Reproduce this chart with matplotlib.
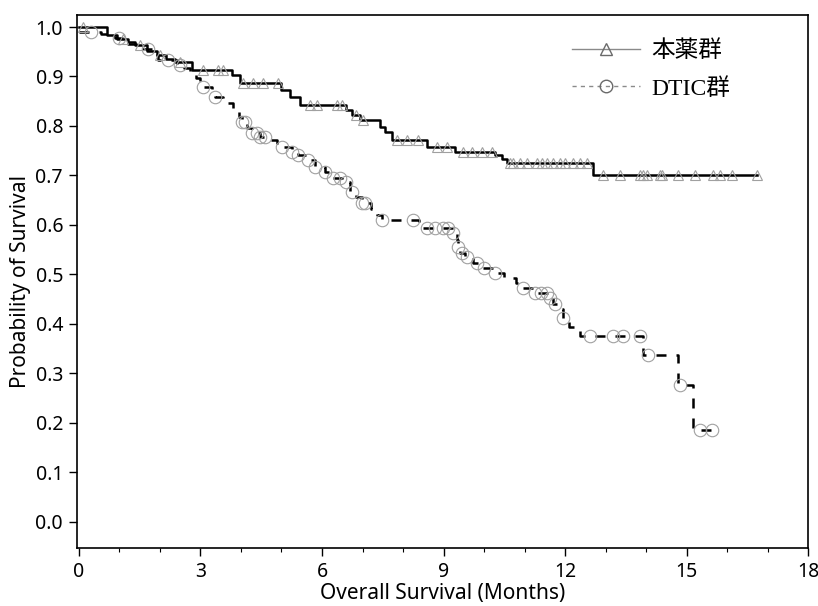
import numpy as np
import matplotlib
matplotlib.use("Agg")
import matplotlib.pyplot as plt
from matplotlib.lines import Line2D
from matplotlib.ticker import MultipleLocator

# ---- data ----
labels = ["本薬群", "DTIC群"]

a_times = [0.0, 0.69, 0.95, 1.2, 1.38, 1.68, 1.93, 2.15, 2.37, 2.79, 3.78, 3.97,
           5.0, 5.2, 5.46, 6.6, 6.75, 6.94, 7.43, 7.55, 7.73, 8.59, 9.28, 10.27,
           10.45, 10.56, 12.69]
a_surv = [1.0, 0.984, 0.976, 0.970, 0.964, 0.952, 0.943, 0.936, 0.929, 0.913,
          0.903, 0.887, 0.872, 0.858, 0.842, 0.832, 0.822, 0.812, 0.798, 0.788,
          0.772, 0.758, 0.747, 0.741, 0.733, 0.725, 0.701]
a_end = 16.74
a_censor = [0.1, 1.1, 1.5, 2.0, 2.5, 3.06, 3.43, 3.56, 4.05, 4.3, 4.54, 4.91,
            5.7, 5.88, 6.37, 6.49, 6.85, 7.0, 7.85, 8.1, 8.37, 8.84, 9.09, 9.48,
            9.7, 9.95, 10.2, 10.64, 10.72, 10.89, 11.06, 11.31, 11.43, 11.56,
            11.7, 11.88, 12.0, 12.2, 12.37, 12.54, 12.94, 13.36, 13.85, 13.93,
            14.02, 14.35, 14.4, 14.79, 15.21, 15.65, 15.83, 16.12, 16.74]

b_times = [0.0, 0.55, 0.9, 1.2, 1.5, 1.83, 1.95, 2.42, 2.6, 2.74, 2.9, 3.0, 3.28,
           3.36, 3.56, 3.8, 3.95, 4.02, 4.15, 4.27, 4.47, 4.64, 4.9, 5.01, 5.26,
           5.41, 5.65, 5.83, 6.07, 6.27, 6.49, 6.69, 6.85, 6.99, 7.2, 7.35, 7.48,
           8.4, 9.23, 9.33, 9.36, 9.4, 9.53, 9.73, 9.98, 10.27, 10.5, 10.8, 10.96,
           11.26, 11.6, 11.7, 11.8, 11.95, 12.1, 12.37, 13.93, 14.79, 15.16]
b_surv = [0.99, 0.986, 0.978, 0.966, 0.955, 0.943, 0.933, 0.923, 0.917, 0.909,
          0.897, 0.879, 0.867, 0.859, 0.846, 0.832, 0.818, 0.808, 0.796, 0.786,
          0.778, 0.772, 0.765, 0.758, 0.747, 0.741, 0.731, 0.717, 0.707, 0.695,
          0.687, 0.667, 0.657, 0.644, 0.632, 0.620, 0.610, 0.594, 0.584, 0.570,
          0.555, 0.543, 0.535, 0.523, 0.513, 0.503, 0.493, 0.483, 0.473, 0.463,
          0.452, 0.440, 0.430, 0.412, 0.394, 0.376, 0.337, 0.277, 0.185]
b_end = 15.63
b_censor = [0.3, 1.0, 1.7, 2.2, 2.5, 3.06, 3.36, 4.02, 4.1, 4.27, 4.4, 4.47, 4.6,
            5.01, 5.26, 5.41, 5.65, 5.83, 6.07, 6.27, 6.44, 6.6, 6.74, 6.99, 7.05,
            7.48, 8.25, 8.6, 8.8, 8.99, 9.1, 9.23, 9.36, 9.45, 9.58, 9.83, 10.0,
            10.27, 10.96, 11.26, 11.4, 11.56, 11.63, 11.75, 11.95, 12.62, 13.19,
            13.43, 13.85, 14.05, 14.84, 15.33, 15.63]

x_ticks = [0, 3, 6, 9, 12, 15, 18]
y_ticks = [0.0, 0.1, 0.2, 0.3, 0.4, 0.5, 0.6, 0.7, 0.8, 0.9, 1.0]
x_label = "Overall Survival (Months)"
y_label = "Probability of Survival"


def step_value(times, surv, t):
    i = np.searchsorted(times, t, side="right") - 1
    return np.asarray(surv)[np.clip(i, 0, len(surv) - 1)]


fig = plt.figure(figsize=(8.18, 6.06), dpi=100)
ax = fig.add_axes([0.094, 0.096, 0.894, 0.879])

tick_font = "Noto Sans"
fs = 14

# curve A
ta = np.array(a_times + [a_end])
sa = np.array(a_surv + [a_surv[-1]])
ax.step(ta, sa, where="post", color="black", lw=1.8, zorder=3)
ax.plot(a_censor, step_value(a_times, a_surv, np.array(a_censor)),
        linestyle="none", marker="^", markersize=7, markerfacecolor="none",
        markeredgecolor="#a0a0a0", markeredgewidth=0.8, zorder=4)

# curve B
tb = np.array(b_times + [b_end])
sb = np.array(b_surv + [b_surv[-1]])
ax.step(tb, sb, where="post", color="black", lw=1.8, linestyle=(0, (4, 4)), zorder=3)
ax.plot(b_censor, step_value(b_times, b_surv, np.array(b_censor)),
        linestyle="none", marker="o", markersize=9, markerfacecolor="none",
        markeredgecolor="#a0a0a0", markeredgewidth=0.8, zorder=4)

ax.set_xlim(-0.05, 18.0)
ax.set_ylim(-0.053, 1.024)
ax.set_xticks(x_ticks)
ax.set_xticklabels([str(v) for v in x_ticks], fontsize=fs, family=tick_font)
ax.xaxis.set_minor_locator(MultipleLocator(1))
ax.set_yticks(y_ticks)
ax.set_yticklabels([f"{v:.1f}" for v in y_ticks], fontsize=fs, family=tick_font)
ax.tick_params(axis="both", which="major", direction="out", length=6, width=1.0, pad=4)
ax.tick_params(axis="x", which="minor", direction="out", length=3, width=0.8)
ax.set_xlabel(x_label, fontsize=15, family=tick_font, labelpad=1)
ax.set_ylabel(y_label, fontsize=15, family=tick_font, labelpad=3)
for s in ax.spines.values():
    s.set_linewidth(1.2)

handles = [
    Line2D([], [], color="#8a8a8a", lw=1.0, marker="^", markersize=8,
           markerfacecolor="none", markeredgecolor="#6a6a6a"),
    Line2D([], [], color="#8a8a8a", lw=1.0, linestyle=(0, (3, 3)), marker="o",
           markersize=9, markerfacecolor="none", markeredgecolor="#6a6a6a"),
]
leg = ax.legend(handles, labels, loc="upper left", bbox_to_anchor=(0.648, 0.992),
                frameon=False, handlelength=2.9, handletextpad=0.45,
                labelspacing=0.65,
                prop={"family": ["Liberation Serif", "Noto Sans CJK JP"], "size": 17})

fig.savefig("out.png", dpi=100)
